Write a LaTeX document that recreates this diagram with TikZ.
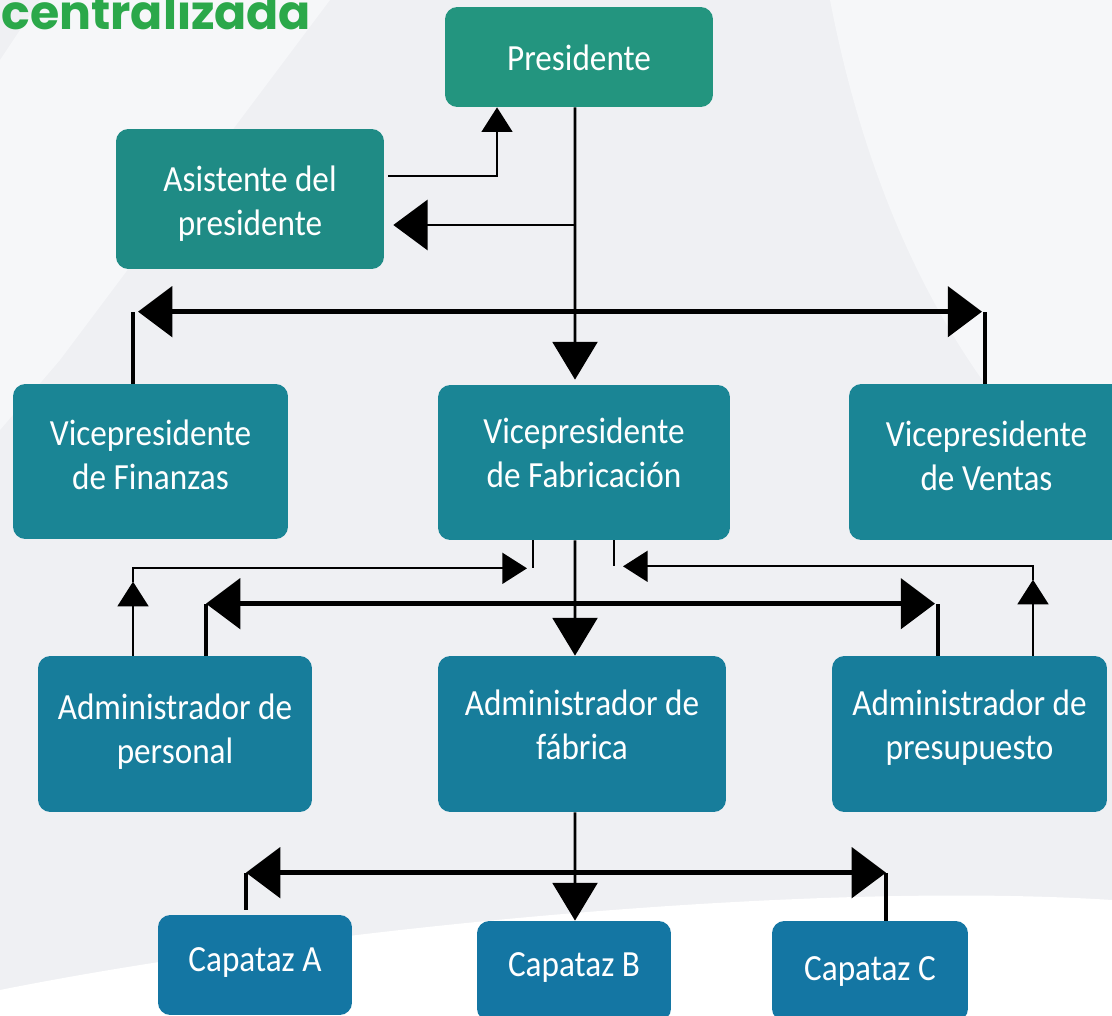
\documentclass[tikz,border=0pt]{standalone}
\usepackage{fontspec}
\setmainfont{Carlito}[FakeStretch=0.9]
\newfontfamily\titlefont{Poppins}
\usetikzlibrary{arrows.meta}
\definecolor{bggray}{HTML}{EFF0F3}
\definecolor{bglight}{HTML}{F6F7F9}
\definecolor{titlegreen}{HTML}{2BA84A}
\definecolor{prescol}{HTML}{23957F}
\definecolor{asiscol}{HTML}{1F8B85}
\definecolor{vicecol}{HTML}{1A8595}
\definecolor{admcol}{HTML}{177D9B}
\definecolor{capcol}{HTML}{1476A3}
\tikzset{box/.style = {rectangle, rounded corners=7pt, inner sep=0pt}}
\tikzset{boxtext/.style = {text=white, align=center, font=\fontsize{21}{25}\selectfont}}
\tikzset{thinline/.style = {line width=1.3pt}}
\tikzset{thinarrow/.style = {line width=1.3pt, -{Triangle[length=14pt, width=17.5pt]}}}
\tikzset{trunkarrow/.style = {line width=1.6pt, -{Triangle[length=21.5pt, width=25.5pt]}}}
\tikzset{sidearrow/.style = {line width=1.6pt, -{Triangle[length=19.5pt, width=28.5pt]}}}
\tikzset{thickline/.style = {line width=2.8pt}}
\tikzset{thickarrow/.style = {line width=2.8pt, -{Triangle[length=19.5pt, width=28.5pt]}}}

\begin{document}
\begin{tikzpicture}[x=0.02cm, y=-0.02cm]
	% background
	\fill[bggray] (0,0) rectangle (1112,1016);
	\useasboundingbox (0,0) rectangle (1112,1016);
	\fill[bglight] (40,0) -- (330,0) -- (60,360) -- (0,430) -- (0,60) -- cycle;
	\fill[bglight] (830,0) -- (1112,0) -- (1112,520) .. controls (990,420) and (880,260) .. (830,0);
	\fill[white] (0,1016) -- (0,990) .. controls (300,930) and (800,880) .. (1112,900) -- (1112,1016) -- cycle;
	\node (title) [anchor=base west, inner sep=0pt, text=titlegreen, font=\titlefont\bfseries\fontsize{27}{30}\selectfont] at (1,30) {centralizada};

	% boxes
	\node (pres) [box, fill=prescol, minimum width=5.36cm, minimum height=2cm, label={[boxtext, yshift=-0.02cm]center:Presidente}]	at (579,57)	{};
	\node (asis) [box, fill=asiscol, minimum width=5.36cm, minimum height=2.8cm, label={[boxtext, yshift=-0.1cm]center:Asistente del\\presidente}]	at (250,199)	{};
	\node (vfin) [box, fill=vicecol, minimum width=5.5cm, minimum height=3.1cm, label={[boxtext, yshift=0.14cm]center:Vicepresidente\\de Finanzas}]	at (150.5,461.5)	{};
	\node (vfab) [box, fill=vicecol, minimum width=5.84cm, minimum height=3.1cm, label={[boxtext, yshift=0.2cm]center:Vicepresidente\\de Fabricación}]	at (584,462.5)	{};
	\node (vven) [box, fill=vicecol, minimum width=5.5cm, minimum height=3.12cm, label={[boxtext, yshift=0.12cm]center:Vicepresidente\\de Ventas}]	at (986.5,462)	{};
	\node (aper) [box, fill=admcol, minimum width=5.48cm, minimum height=3.12cm, label={[boxtext, yshift=0.04cm]center:Administrador de\\personal}]	at (175,734)	{};
	\node (afab) [box, fill=admcol, minimum width=5.76cm, minimum height=3.12cm, label={[boxtext, yshift=0.18cm]center:Administrador de\\fábrica}]	at (582,734)	{};
	\node (apre) [box, fill=admcol, minimum width=5.5cm, minimum height=3.12cm, label={[boxtext, yshift=0.12cm]center:Administrador de\\presupuesto}]	at (969.5,734)	{};
	\node (capA) [box, fill=capcol, minimum width=3.88cm, minimum height=2cm, label={[boxtext, yshift=0.06cm]center:Capataz A}]	at (255,965)	{};
	\node (capB) [box, fill=capcol, minimum width=3.88cm, minimum height=2cm, label={[boxtext, yshift=0.08cm]center:Capataz B}]	at (574,971)	{};
	\node (capC) [box, fill=capcol, minimum width=3.92cm, minimum height=2cm, label={[boxtext]center:Capataz C}]	at (870,971)	{};

	% presidente and asistente
	\coordinate (trunk) at ([xshift=-0.08cm]pres.south);
	\draw [thinarrow] ([xshift=0.08cm, yshift=0.46cm]asis.east) -| ([xshift=-1.64cm]pres.south);
	\draw [trunkarrow, shorten >=0.1cm] (trunk) -- ([xshift=-0.18cm]vfab.north);
	\draw [sidearrow, shorten >=0.18cm] ([yshift=-0.52cm]asis.east -| trunk) -- ([yshift=-0.52cm]asis.east);

	% vicepresidentes
	\coordinate (finTop) at ([xshift=-0.35cm]vfin.north);
	\coordinate (venTop) at ([xshift=-0.03cm]vven.north);
	\coordinate (barL) at ([yshift=1.44cm]finTop);
	\coordinate (barR) at (barL -| venTop);
	\coordinate (barM) at (barL -| trunk);
	\draw [thickline] (finTop) -- (barL);
	\draw [thickline] (venTop) -- (barR);
	\draw [thickarrow, shorten >=0.1cm] (barM) -- (barL);
	\draw [thickarrow, shorten >=0.06cm] (barM) -- (barR);

	% administradores
	\coordinate (fabDown) at ([xshift=-0.18cm]vfab.south);
	\draw [trunkarrow] (fabDown) -- ([xshift=-0.14cm]afab.north);

	\coordinate (perTop) at ([xshift=0.62cm]aper.north);
	\coordinate (preTop) at ([xshift=-0.63cm]apre.north);
	\coordinate (midL) at ([yshift=1.04cm]perTop);
	\coordinate (midR) at (midL -| preTop);
	\coordinate (midM) at (midL -| fabDown);
	\draw [thickline] (perTop) -- (midL);
	\draw [thickline] (preTop) -- (midR);
	\draw [thickarrow] (midM) -- (midL);
	\draw [thickarrow, shorten >=0.06cm] (midM) -- (midR);

	\coordinate (perUp) at ([xshift=-0.84cm]aper.north);
	\coordinate (fabL) at ([xshift=-1.02cm]vfab.south);
	\draw [thinarrow] (perUp) -- ++(0,-74) coordinate (perTip);
	\draw [thinarrow] (perTip) |- ([xshift=-0.12cm, yshift=-0.56cm]fabL);
	\draw [thinline] (fabL) -- ++(0,28);

	\coordinate (preUp) at ([xshift=1.27cm]apre.north);
	\coordinate (fabR) at ([xshift=0.6cm]vfab.south);
	\draw [thinarrow] (preUp) -- ++(0,-76) coordinate (preTip);
	\draw [thinarrow] (preTip) |- ([xshift=0.18cm, yshift=-0.52cm]fabR);
	\draw [thinline] (fabR) -- ++(0,26);

	% capataces
	\coordinate (afabDown) at ([xshift=-0.14cm]afab.south);
	\draw [trunkarrow] (afabDown) -- ([xshift=0.02cm]capB.north);
	\coordinate (capAtop) at ([xshift=-0.18cm]capA.north);
	\coordinate (capCtop) at ([xshift=0.32cm]capC.north);
	\coordinate (botL) at ([yshift=0.84cm]capAtop);
	\coordinate (botR) at (botL -| capCtop);
	\coordinate (botM) at (botL -| afabDown);
	\draw [thickline] ([yshift=0.1cm]capAtop) -- (botL);
	\draw [thickline] (capCtop) -- (botR);
	\draw [thickarrow] (botM) -- (botL);
	\draw [thickarrow] (botM) -- (botR);
\end{tikzpicture}
\end{document}
